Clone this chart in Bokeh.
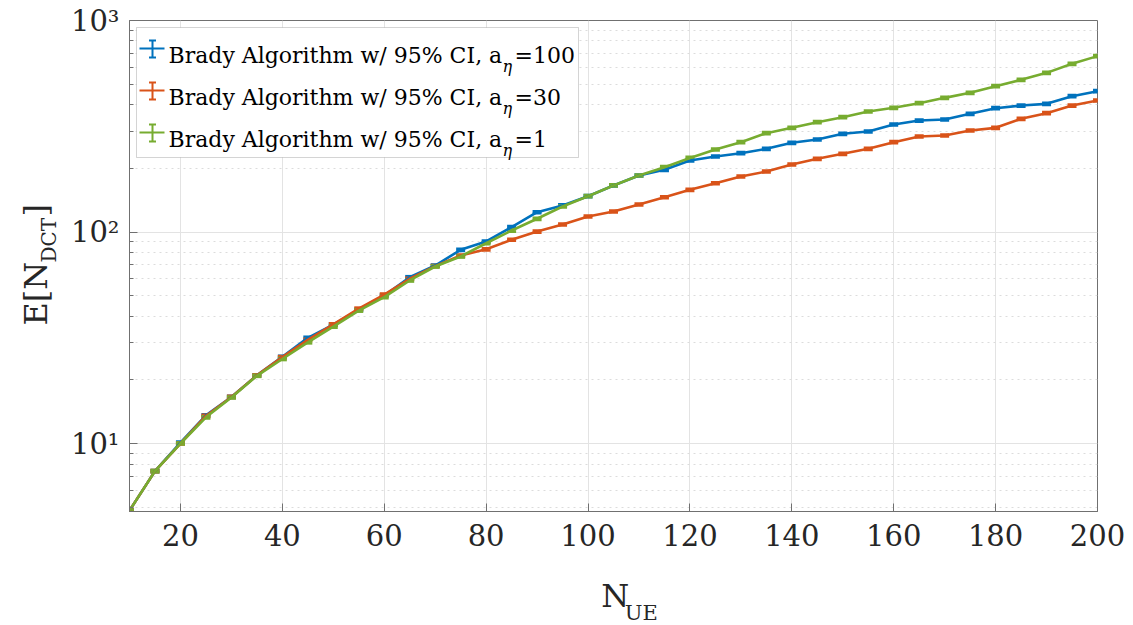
import math
from bokeh.plotting import figure
from bokeh.layouts import row, column
from bokeh.models import (ColumnDataSource, Whisker, TeeHead, Label, Arrow,
                          BoxAnnotation, FixedTicker, Range1d, CustomJSTickFormatter)
from bokeh.embed import file_html
from bokeh.resources import INLINE

# ---------------- data ----------------
n_ue = list(range(10, 205, 5))

e_ndct_a100 = [4.82, 7.4, 10.1, 13.6, 16.6, 21.0, 25.7, 31.6, 36.5, 42.9,
               50.1, 61.1, 69.4, 82.4, 90.2, 105.4, 124.0, 133.5, 147.7, 166.0,
               185.0, 196.8, 217.8, 227.5, 235.9, 247.3, 264.0, 273.8, 291.2, 298.7,
               322.3, 336.6, 340.3, 362.1, 385.0, 396.3, 403.6, 438.7, 463.2]
e_ndct_a30 = [4.82, 7.4, 10.0, 13.5, 16.6, 21.0, 25.6, 30.9, 36.6, 43.4,
              50.6, 60.1, 69.0, 77.4, 82.8, 91.9, 100.5, 108.5, 118.4, 125.0,
              134.9, 146.0, 158.3, 170.0, 183.0, 193.2, 208.5, 221.8, 234.2, 247.3,
              265.9, 282.8, 286.0, 301.9, 310.8, 342.8, 364.7, 396.3, 418.5]
e_ndct_a1 = [4.82, 7.4, 10.0, 13.3, 16.5, 20.9, 25.1, 30.1, 35.7, 42.5,
             49.2, 59.0, 68.7, 76.6, 88.5, 101.6, 115.5, 132.0, 147.7, 166.0,
             185.0, 202.5, 224.0, 245.5, 265.9, 293.3, 310.8, 330.6, 349.1, 371.3,
             386.5, 406.6, 430.8, 455.0, 489.3, 524.2, 565.5, 624.0, 678.5]
ci_rel = 0.012  # 95% CI half-width (relative), very narrow

series_names = ["100", "30", "1"]
series_values = [e_ndct_a100, e_ndct_a30, e_ndct_a1]
series_colors = ["#0072BD", "#D95319", "#77AC30"]

x_ticks = [20, 40, 60, 80, 100, 120, 140, 160, 180, 200]
y_ticks = [10, 100, 1000]
y_minor = [m * d for d in (1, 10, 100) for m in range(2, 10) if 5 <= m * d < 1000]

FONT = "DejaVu Serif"
TXT = "#262626"
AX = "#707070"

W, H = 1133, 625
YLW = 60           # width of the y-label strip
XLH = 65           # height of the x-label strip
FL, FT, FW, FH = 129, 20, 968, 491   # frame position on the whole page

# ---------------- main figure ----------------
p = figure(frame_width=FW, frame_height=FH,
           min_border_left=FL - YLW, min_border_right=W - FL - FW,
           min_border_top=FT, min_border_bottom=H - XLH - FT - FH,
           y_axis_type="log", x_range=Range1d(10, 200), y_range=Range1d(4.77, 1000),
           output_backend="svg", toolbar_location=None)
p.background_fill_color = "white"
p.border_fill_color = "white"
p.outline_line_color = AX
p.outline_line_width = 1

p.xgrid.ticker = FixedTicker(ticks=x_ticks)
p.ygrid.ticker = FixedTicker(ticks=y_ticks, minor_ticks=y_minor)
p.xgrid.grid_line_color = "#e3e3e3"
p.ygrid.grid_line_color = "#e3e3e3"
p.ygrid.minor_grid_line_color = "#dcdcdc"
p.ygrid.minor_grid_line_dash = "dotted"

sup = CustomJSTickFormatter(code="""
const e = Math.round(Math.log10(tick));
const m = {'0':'\u2070','1':'\u00b9','2':'\u00b2','3':'\u00b3','4':'\u2074'};
return '10' + String(e).split('').map(c => m[c]).join('');
""")

def style_axis(ax):
    ax.axis_line_color = AX
    ax.major_tick_line_color = AX
    ax.minor_tick_line_color = AX
    ax.major_tick_in = 8
    ax.major_tick_out = 0
    ax.minor_tick_in = 4
    ax.minor_tick_out = 0
    ax.major_label_text_font = FONT
    ax.major_label_text_color = TXT
    ax.major_label_text_font_size = "29px"

xa = p.xaxis[0]
xa.ticker = FixedTicker(ticks=x_ticks, minor_ticks=[])
style_axis(xa)
xa.major_label_standoff = 12

ya = p.yaxis[0]
ya.ticker = FixedTicker(ticks=y_ticks, minor_ticks=y_minor)
ya.formatter = sup
style_axis(ya)
ya.major_label_standoff = 10

for vals, col in zip(series_values, series_colors):
    lo = [v * (1 - ci_rel) for v in vals]
    hi = [v * (1 + ci_rel) for v in vals]
    src = ColumnDataSource(dict(x=n_ue, y=vals, lo=lo, hi=hi))
    p.line("x", "y", source=src, line_color=col, line_width=2.6)
    p.add_layout(Whisker(source=src, base="x", lower="lo", upper="hi",
                         line_color=col, line_width=2,
                         lower_head=TeeHead(size=9, line_color=col, line_width=2.5),
                         upper_head=TeeHead(size=9, line_color=col, line_width=2.5)))

# page px (top-down) -> frame screen units
def sx(cx):
    return cx - FL

def sy(cy):
    return FT + FH - cy

def flabel(cx, cy, text, size, color="black", style="normal"):
    p.add_layout(Label(x=sx(cx), y=sy(cy), x_units="screen", y_units="screen",
                       text=text, text_font=FONT, text_font_size=size, text_color=color,
                       text_font_style=style, text_baseline="alphabetic", text_align="left"))

# legend
p.add_layout(BoxAnnotation(left=sx(136), right=sx(578), top=sy(27), bottom=sy(157),
                           left_units="screen", right_units="screen",
                           top_units="screen", bottom_units="screen",
                           fill_color="white", fill_alpha=1.0,
                           line_color=AX, line_width=1))
for i, (name, col) in enumerate(zip(series_names, series_colors)):
    base = 55 + 42 * i
    p.add_layout(Arrow(x_start=sx(139), x_end=sx(164), y_start=sy(base - 7), y_end=sy(base - 7),
                       start_units="screen", end_units="screen", end=None,
                       line_color=col, line_width=2))
    p.add_layout(Arrow(x_start=sx(152), x_end=sx(152), y_start=sy(base + 2), y_end=sy(base - 15),
                       start_units="screen", end_units="screen",
                       start=TeeHead(size=7, line_color=col, line_width=2),
                       end=TeeHead(size=7, line_color=col, line_width=2),
                       line_color=col, line_width=2))
    flabel(168, base, "Brady Algorithm w/ 95% CI, a", "22px")
    flabel(502, base + 11, "\u03b7", "16px", style="italic")
    flabel(514, base, "=" + name, "22px")

# ---------------- label strips ----------------
def strip(w, h):
    f = figure(width=w, height=h, x_range=Range1d(0, w), y_range=Range1d(0, h),
               x_axis_type=None, y_axis_type=None, min_border=0,
               output_backend="svg", toolbar_location=None)
    f.outline_line_color = None
    f.background_fill_color = "white"
    f.border_fill_color = "white"
    return f

ylab = strip(YLW, H)
def ylabel(cx, cy, text, size):
    ylab.add_layout(Label(x=cx, y=H - cy, angle=math.pi / 2, text=text, text_font=FONT,
                          text_font_size=size, text_color=TXT,
                          text_baseline="alphabetic", text_align="left"))
ylabel(35, 325, "E[N", "32px")
ylabel(48, 262, "DCT", "20px")
ylabel(35, 216, "]", "32px")

xlab = strip(W - YLW, XLH)
def xlabel(cx, cy, text, size):
    xlab.add_layout(Label(x=cx - YLW, y=H - cy, text=text, text_font=FONT,
                          text_font_size=size, text_color=TXT,
                          text_baseline="alphabetic", text_align="left"))
xlabel(583, 595, "N", "32px")
xlabel(609, 612, "UE", "21px")

layout = row(ylab, column(p, xlab, spacing=0), spacing=0)
open("out.html", "w").write(file_html(layout, INLINE))
